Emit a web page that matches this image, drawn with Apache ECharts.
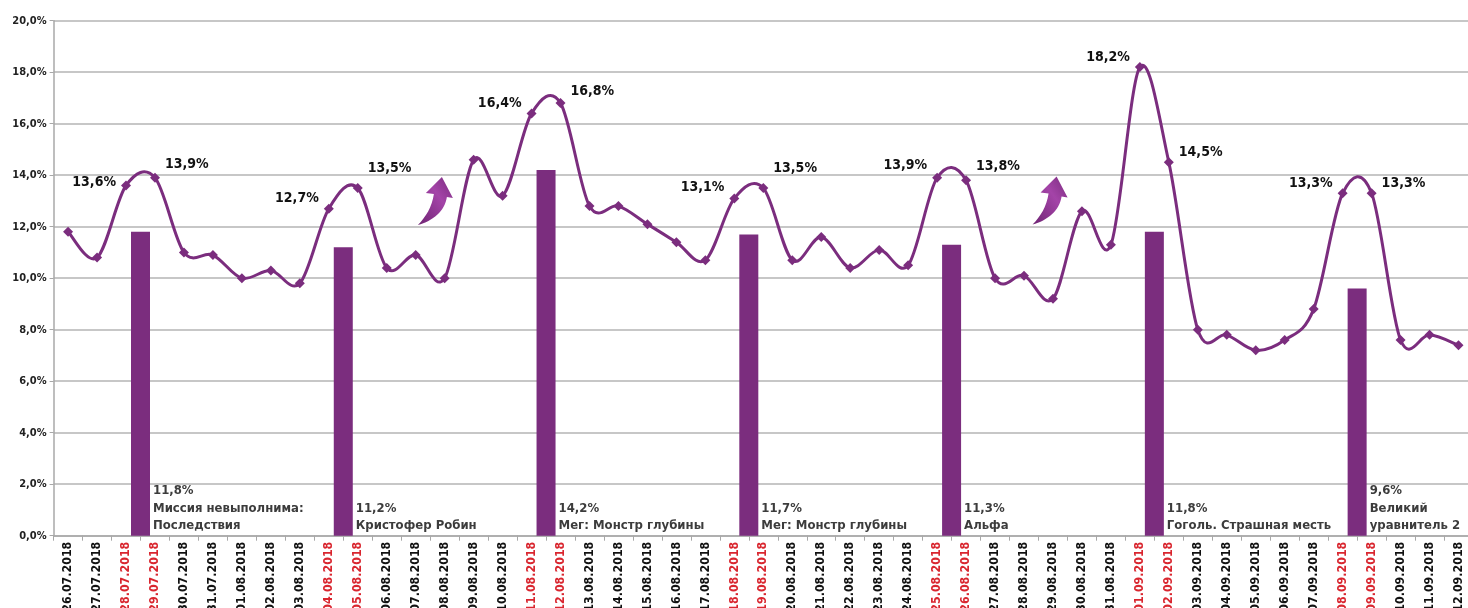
<!DOCTYPE html>
<html><head><meta charset="utf-8">
<script src="https://cdn.jsdelivr.net/npm/echarts@6/dist/echarts.min.js"></script>
<style>html,body{margin:0;padding:0;background:#fff}#c{width:1468px;height:608px}</style>
</head><body><div id="c"></div>
<script>
// ---- data ----
const dates = ['26.07.2018','27.07.2018','28.07.2018','29.07.2018','30.07.2018','31.07.2018',
  '01.08.2018','02.08.2018','03.08.2018','04.08.2018','05.08.2018','06.08.2018','07.08.2018','08.08.2018',
  '09.08.2018','10.08.2018','11.08.2018','12.08.2018','13.08.2018','14.08.2018','15.08.2018','16.08.2018',
  '17.08.2018','18.08.2018','19.08.2018','20.08.2018','21.08.2018','22.08.2018','23.08.2018','24.08.2018',
  '25.08.2018','26.08.2018','27.08.2018','28.08.2018','29.08.2018','30.08.2018','31.08.2018',
  '01.09.2018','02.09.2018','03.09.2018','04.09.2018','05.09.2018','06.09.2018','07.09.2018','08.09.2018',
  '09.09.2018','10.09.2018','11.09.2018','12.09.2018'];
const weekendDates = ['28.07.2018','29.07.2018','04.08.2018','05.08.2018','11.08.2018','12.08.2018',
  '18.08.2018','19.08.2018','25.08.2018','26.08.2018','01.09.2018','02.09.2018','08.09.2018','09.09.2018'];
const shareValues = [11.8,10.8,13.6,13.9,11.0,10.9,
  10.0,10.3,9.8,12.7,13.5,10.4,10.9,10.0,
  14.6,13.2,16.4,16.8,12.8,12.8,12.1,11.4,
  10.7,13.1,13.5,10.7,11.6,10.4,11.1,10.5,
  13.9,13.8,10.0,10.1,9.2,12.6,11.3,
  18.2,14.5,8.0,7.8,7.2,7.6,8.8,13.3,
  13.3,7.6,7.8,7.4];
const labeledDates = ['28.07.2018','29.07.2018','04.08.2018','05.08.2018','11.08.2018','12.08.2018',
  '18.08.2018','19.08.2018','25.08.2018','26.08.2018','01.09.2018','02.09.2018','08.09.2018','09.09.2018'];
// premiere-weekend bars: drawn between Saturday and Sunday
const barSaturdays = ['28.07.2018','04.08.2018','11.08.2018','18.08.2018','25.08.2018','01.09.2018','08.09.2018'];
const barValues = [11.8,11.2,14.2,11.7,11.3,11.8,9.6];
const barFilms = ['Миссия невыполнима:\nПоследствия','Кристофер Робин','Мег: Монстр глубины',
  'Мег: Монстр глубины','Альфа','Гоголь. Страшная месть','Великий\nуравнитель 2'];
const yMin = 0, yMax = 20, yStep = 2;

// ---- styling / decoration placement (kept apart from data) ----
const labelLiftPx = [-3, -13, -10, -20, -10, -12, -11, -20, -12, -14, -10, -10, -10, -10]; // per labeled point
const arrowSpots = [[12.68, 13.0], [33.9, 13.02]]; // data units

const PURPLE = '#7b2d7e';
const fmt = v => v.toFixed(1).replace('.', ',') + '%';

const lineData = shareValues.map((v, i) => {
  const d = dates[i];
  const li = labeledDates.indexOf(d);
  if (li < 0) return v;
  const nextLabeled = labeledDates.indexOf(dates[i + 1]) >= 0;
  return {
    value: v,
    label: {
      show: true,
      position: nextLabeled ? 'left' : 'right',
      offset: [0, labelLiftPx[li]],
      formatter: p => fmt(p.value),
      fontFamily: '"DejaVu Sans Condensed", "DejaVu Sans", sans-serif',
      fontWeight: 'bold', fontSize: 14, color: '#111'
    }
  };
});

const barData = barSaturdays.map((d, i) => [dates.indexOf(d) + 0.5, barValues[i]]);

// Excel-like smooth curve (Catmull-Rom / cubic Bezier) through the data points
function renderCurve(params, api) {
  if (params.dataIndex !== 0) return null;
  const pts = shareValues.map((v, i) => api.coord([i, v]));
  const n = pts.length;
  let d = 'M' + pts[0][0] + ',' + pts[0][1];
  for (let i = 0; i < n - 1; i++) {
    const p0 = pts[Math.max(i - 1, 0)], p1 = pts[i], p2 = pts[i + 1], p3 = pts[Math.min(i + 2, n - 1)];
    const c1x = p1[0] + (p2[0] - p0[0]) / 6, c1y = p1[1] + (p2[1] - p0[1]) / 6;
    const c2x = p2[0] - (p3[0] - p1[0]) / 6, c2y = p2[1] - (p3[1] - p1[1]) / 6;
    d += ' C' + c1x + ',' + c1y + ' ' + c2x + ',' + c2y + ' ' + p2[0] + ',' + p2[1];
  }
  return {
    type: 'path',
    shape: {pathData: d},
    style: {fill: null, stroke: PURPLE, lineWidth: 3, lineJoin: 'round'},
    silent: true
  };
}

const chart = echarts.init(document.getElementById('c'), null, {renderer: 'canvas'});
chart.setOption({
  animation: false,
  backgroundColor: '#fff',
  grid: {left: 53.6, right: -5, top: 20.7, bottom: 72.3, containLabel: false, outerBoundsMode: 'none'},
  xAxis: [{
    type: 'category',
    data: dates,
    boundaryGap: true,
    axisLine: {onZero: false, lineStyle: {color: '#a8a8a8', width: 1.5}},
    axisTick: {show: true, length: 5, lineStyle: {color: '#a8a8a8'}},
    axisLabel: {
      interval: 0, rotate: 90, margin: 6,
      fontFamily: '"DejaVu Sans Condensed", "DejaVu Sans", sans-serif',
      fontWeight: 'bold', fontSize: 12.3,
      color: (val) => weekendDates.indexOf(val) >= 0 ? '#d9262f' : '#111'
    },
    splitLine: {show: false}
  }, {
    type: 'value', min: -0.5, max: dates.length - 0.5, show: false
  }],
  yAxis: {
    type: 'value', min: yMin, max: yMax, interval: yStep,
    axisLine: {show: true, onZero: false, lineStyle: {color: '#a8a8a8', width: 1.5}},
    axisTick: {show: true, length: 4, lineStyle: {color: '#a8a8a8'}},
    axisLabel: {
      formatter: v => fmt(v), margin: 7,
      fontFamily: '"DejaVu Sans Condensed", "DejaVu Sans", sans-serif',
      fontWeight: 'bold', fontSize: 11, color: '#222'
    },
    splitLine: {lineStyle: {color: '#b5b5b5', width: 1.5}}
  },
  series: [{
    type: 'bar',
    xAxisIndex: 1,
    data: barData,
    barWidth: 19,
    itemStyle: {color: PURPLE},
    label: {
      show: true,
      position: ['100%', '100%'],
      align: 'left', verticalAlign: 'bottom',
      offset: [3, -1],
      formatter: p => fmt(barValues[p.dataIndex]) + '\n' + barFilms[p.dataIndex],
      fontFamily: '"DejaVu Sans Condensed", "DejaVu Sans", sans-serif',
      fontWeight: 'bold', fontSize: 13, lineHeight: 17.5, color: '#3c3c3c'
    },
    markPoint: {
      symbol: 'path://M24,0 L35,21 L29,20 C27,34 15,44 0,48 C8,40 14,30 16,17 L8,16 Z',
      symbolSize: [35, 48],
      label: {show: false},
      itemStyle: {
        color: {type: 'linear', x: 0, y: 1, x2: 1, y2: 0, colorStops: [
          {offset: 0, color: '#6f2473'}, {offset: 0.6, color: '#a444a8'}, {offset: 1, color: '#7a2c7e'}]}
      },
      data: arrowSpots.map(c => ({coord: c}))
    },
    z: 1
  }, {
    type: 'custom',
    xAxisIndex: 0,
    data: shareValues,
    renderItem: renderCurve,
    z: 2
  }, {
    type: 'line',
    data: lineData,
    symbol: 'diamond',
    symbolSize: 10,
    lineStyle: {width: 0, opacity: 0},
    itemStyle: {color: PURPLE},
    z: 3
  }]
});
</script></body></html>
